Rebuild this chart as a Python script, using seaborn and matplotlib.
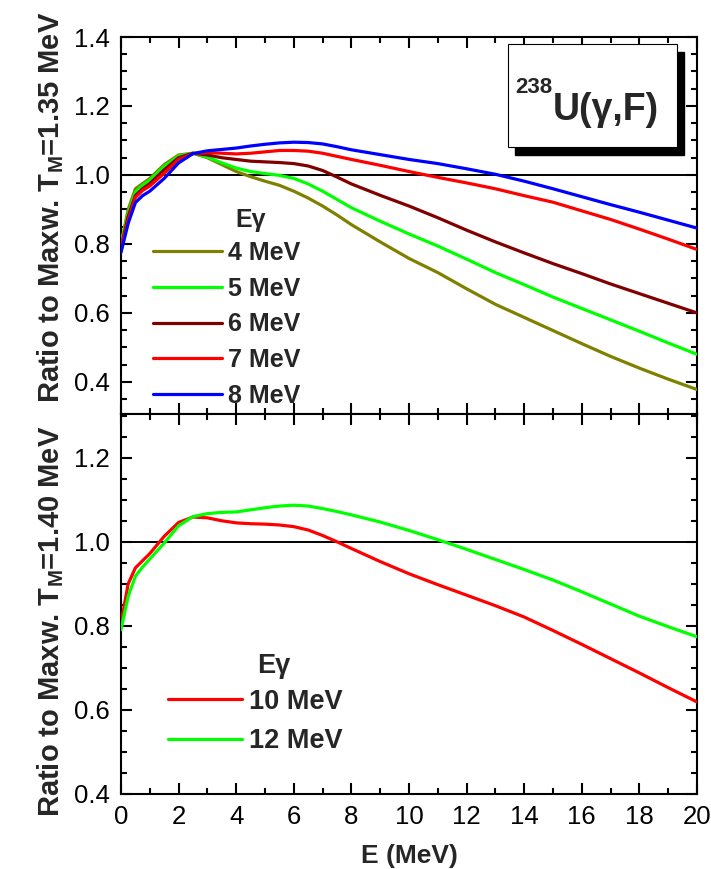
import numpy as np
import pandas as pd
import matplotlib
matplotlib.use("Agg")
import matplotlib.pyplot as plt
import seaborn as sns
from matplotlib.patches import Rectangle
from matplotlib.ticker import MultipleLocator, FormatStrFormatter

# Outgoing neutron energy grid (MeV)
energy = [0, 0.25, 0.5, 0.75, 1.0, 1.5, 2.0, 2.5, 3.0, 3.5, 4.0, 4.5, 5.0, 5.5,
          6.0, 6.5, 7.0, 7.5, 8.0, 9, 10, 11, 12, 13, 14, 15, 16, 17, 18, 19, 20]

# Ratio of PFNS to Maxwellian, T_M = 1.35 MeV
ratio_4mev = [0.80, 0.90, 0.96, 0.975, 0.99, 1.03, 1.058, 1.063, 1.05, 1.03, 1.01,
              0.995, 0.982, 0.970, 0.953, 0.933, 0.91, 0.884, 0.856, 0.806, 0.758,
              0.717, 0.67, 0.625, 0.587, 0.549, 0.511, 0.474, 0.440, 0.408, 0.378]
ratio_5mev = [0.80, 0.89, 0.95, 0.97, 0.985, 1.025, 1.055, 1.063, 1.052, 1.035, 1.02,
              1.01, 1.004, 0.999, 0.99, 0.974, 0.953, 0.929, 0.905, 0.866, 0.829,
              0.794, 0.756, 0.717, 0.682, 0.646, 0.613, 0.580, 0.547, 0.513, 0.480]
ratio_6mev = [0.79, 0.88, 0.94, 0.96, 0.975, 1.015, 1.05, 1.063, 1.058, 1.05, 1.045,
              1.040, 1.038, 1.036, 1.033, 1.026, 1.013, 0.994, 0.974, 0.941, 0.910,
              0.876, 0.840, 0.806, 0.774, 0.743, 0.714, 0.684, 0.656, 0.628, 0.600]
ratio_7mev = [0.79, 0.87, 0.935, 0.955, 0.968, 1.005, 1.045, 1.062, 1.065, 1.063, 1.061,
              1.063, 1.067, 1.071, 1.071, 1.069, 1.063, 1.054, 1.045, 1.028, 1.010,
              0.993, 0.977, 0.96, 0.940, 0.921, 0.896, 0.871, 0.843, 0.814, 0.784]
ratio_8mev = [0.775, 0.86, 0.92, 0.94, 0.953, 0.99, 1.035, 1.062, 1.07, 1.074, 1.078,
              1.084, 1.089, 1.093, 1.095, 1.094, 1.09, 1.082, 1.073, 1.059, 1.045,
              1.033, 1.018, 1.002, 0.982, 0.960, 0.937, 0.914, 0.892, 0.869, 0.846]

# Ratio of PFNS to Maxwellian, T_M = 1.40 MeV
ratio_10mev = [0.806, 0.90, 0.938, 0.955, 0.972, 1.013, 1.046, 1.059, 1.057, 1.05, 1.045,
               1.043, 1.042, 1.040, 1.036, 1.028, 1.015, 1.0, 0.984, 0.953, 0.924,
               0.898, 0.873, 0.848, 0.821, 0.789, 0.756, 0.722, 0.688, 0.653, 0.619]
ratio_12mev = [0.791, 0.87, 0.918, 0.94, 0.959, 0.997, 1.038, 1.06, 1.067, 1.07, 1.071,
               1.076, 1.081, 1.085, 1.087, 1.085, 1.079, 1.072, 1.064, 1.047, 1.027,
               1.005, 0.982, 0.958, 0.934, 0.909, 0.881, 0.852, 0.823, 0.798, 0.774]

top_labels = ["4 MeV", "5 MeV", "6 MeV", "7 MeV", "8 MeV"]
top_colors = ["#808000", "#00ff00", "#800000", "#ff0000", "#0000ff"]
top_series = [ratio_4mev, ratio_5mev, ratio_6mev, ratio_7mev, ratio_8mev]

bottom_labels = ["10 MeV", "12 MeV"]
bottom_colors = ["#ff0000", "#00ff00"]
bottom_series = [ratio_10mev, ratio_12mev]

x_ticks = [0, 2, 4, 6, 8, 10, 12, 14, 16, 18, 20]

sns.set_theme(style="ticks")
plt.rcParams["font.family"] = ["Liberation Sans", "DejaVu Sans"]
plt.rcParams["mathtext.fontset"] = "custom"
plt.rcParams["mathtext.rm"] = "Liberation Sans:bold"
plt.rcParams["mathtext.bf"] = "Liberation Sans:bold"
plt.rcParams["axes.linewidth"] = 1.5

fig = plt.figure(figsize=(7.11, 8.69), dpi=100)
ax1 = fig.add_axes([0.17018, 0.52359, 0.81013, 0.43383])
ax2 = fig.add_axes([0.17018, 0.08631, 0.81013, 0.43728])

def long_frame(series, labels):
    frames = []
    for vals, lab in zip(series, labels):
        frames.append(pd.DataFrame({"E": energy, "ratio": vals, "Egamma": lab}))
    return pd.concat(frames, ignore_index=True)

df_top = long_frame(top_series, top_labels)
df_bot = long_frame(bottom_series, bottom_labels)

for ax, df, labels, colors in [(ax1, df_top, top_labels, top_colors),
                               (ax2, df_bot, bottom_labels, bottom_colors)]:
    ax.axhline(1.0, color="black", lw=1.4, zorder=1)
    for lab, col in zip(labels, colors):
        sub = df[df["Egamma"] == lab]
        sns.lineplot(data=sub, x="E", y="ratio", color=col, lw=2.3, ax=ax,
                     label=lab, estimator=None, sort=False, zorder=3)

for ax in (ax1, ax2):
    ax.set_xlim(0, 20)
    ax.xaxis.set_major_locator(MultipleLocator(2))
    ax.xaxis.set_minor_locator(MultipleLocator(1))
    ax.yaxis.set_major_locator(MultipleLocator(0.2))
    ax.yaxis.set_minor_locator(MultipleLocator(0.05))
    ax.yaxis.set_major_formatter(FormatStrFormatter("%.1f"))
    ax.tick_params(which="both", direction="in", top=True, right=True,
                   width=1.5, labelsize=18.5, colors="black")
    ax.tick_params(which="major", length=8, pad=8)
    ax.tick_params(which="minor", length=4.5)
    for sp in ax.spines.values():
        sp.set_linewidth(1.5)
        sp.set_color("black")

ax1.set_ylim(0.307, 1.4)
ax2.set_ylim(0.4, 1.304)
ax1.set_xlabel("")
ax1.tick_params(labelbottom=False)
ax2.set_xticks(x_ticks)
ax2.set_xlabel("E (MeV)", fontsize=19, fontweight="bold", labelpad=11)

ax1.set_ylabel(r"Ratio to Maxw. T$_{\mathrm{M}}$=1.35 MeV", fontsize=21,
               fontweight="bold")
ax2.set_ylabel(r"Ratio to Maxw. T$_{\mathrm{M}}$=1.40 MeV", fontsize=21,
               fontweight="bold")
ax1.yaxis.set_label_coords(-0.095, 0.548)
ax2.yaxis.set_label_coords(-0.095, 0.454)

# Legends (titles drawn as separate text above the label column)
top_font = {"weight": "bold", "size": 18}
ax1.legend(prop=top_font, frameon=False, loc="upper left",
           bbox_to_anchor=(0.0556, 0.459), borderpad=0, handlelength=2.76,
           handletextpad=0.24, labelspacing=0.47, borderaxespad=0)
ax1.text(0.1979, 0.496, "E\u03b3", transform=ax1.transAxes, fontsize=18,
         fontweight="bold", ha="left", va="baseline")

bot_font = {"weight": "bold", "size": 19.5}
ax2.legend(prop=bot_font, frameon=False, loc="upper left",
           bbox_to_anchor=(0.0816, 0.2766), borderpad=0, handlelength=2.73,
           handletextpad=0.26, labelspacing=0.49, borderaxespad=0)
ax2.text(0.2361, 0.318, "E\u03b3", transform=ax2.transAxes, fontsize=19.5,
         fontweight="bold", ha="left", va="baseline")

# Reaction label in a box with a drop shadow
W, H = 711.0, 869.0
bx0, by0, bx1, by1 = 508, 44, 677, 147
shadow = Rectangle(((bx0 + 7) / W, 1 - (by1 + 8) / H), (bx1 - bx0) / W, (by1 - by0) / H,
                   transform=fig.transFigure, facecolor="black", edgecolor="black",
                   zorder=5)
box = Rectangle((bx0 / W, 1 - by1 / H), (bx1 - bx0) / W, (by1 - by0) / H,
                transform=fig.transFigure, facecolor="white", edgecolor="black",
                lw=0.8, zorder=6)
fig.patches.extend([shadow, box])
fig.text(515 / W, 1 - 93 / H, "238", fontsize=16, fontweight="bold",
         ha="left", va="baseline", zorder=7)
fig.text(553 / W, 1 - 120 / H, "U(\u03b3,F)", fontsize=27, fontweight="bold",
         ha="left", va="baseline", zorder=7)

fig.savefig("out.png", dpi=100)
